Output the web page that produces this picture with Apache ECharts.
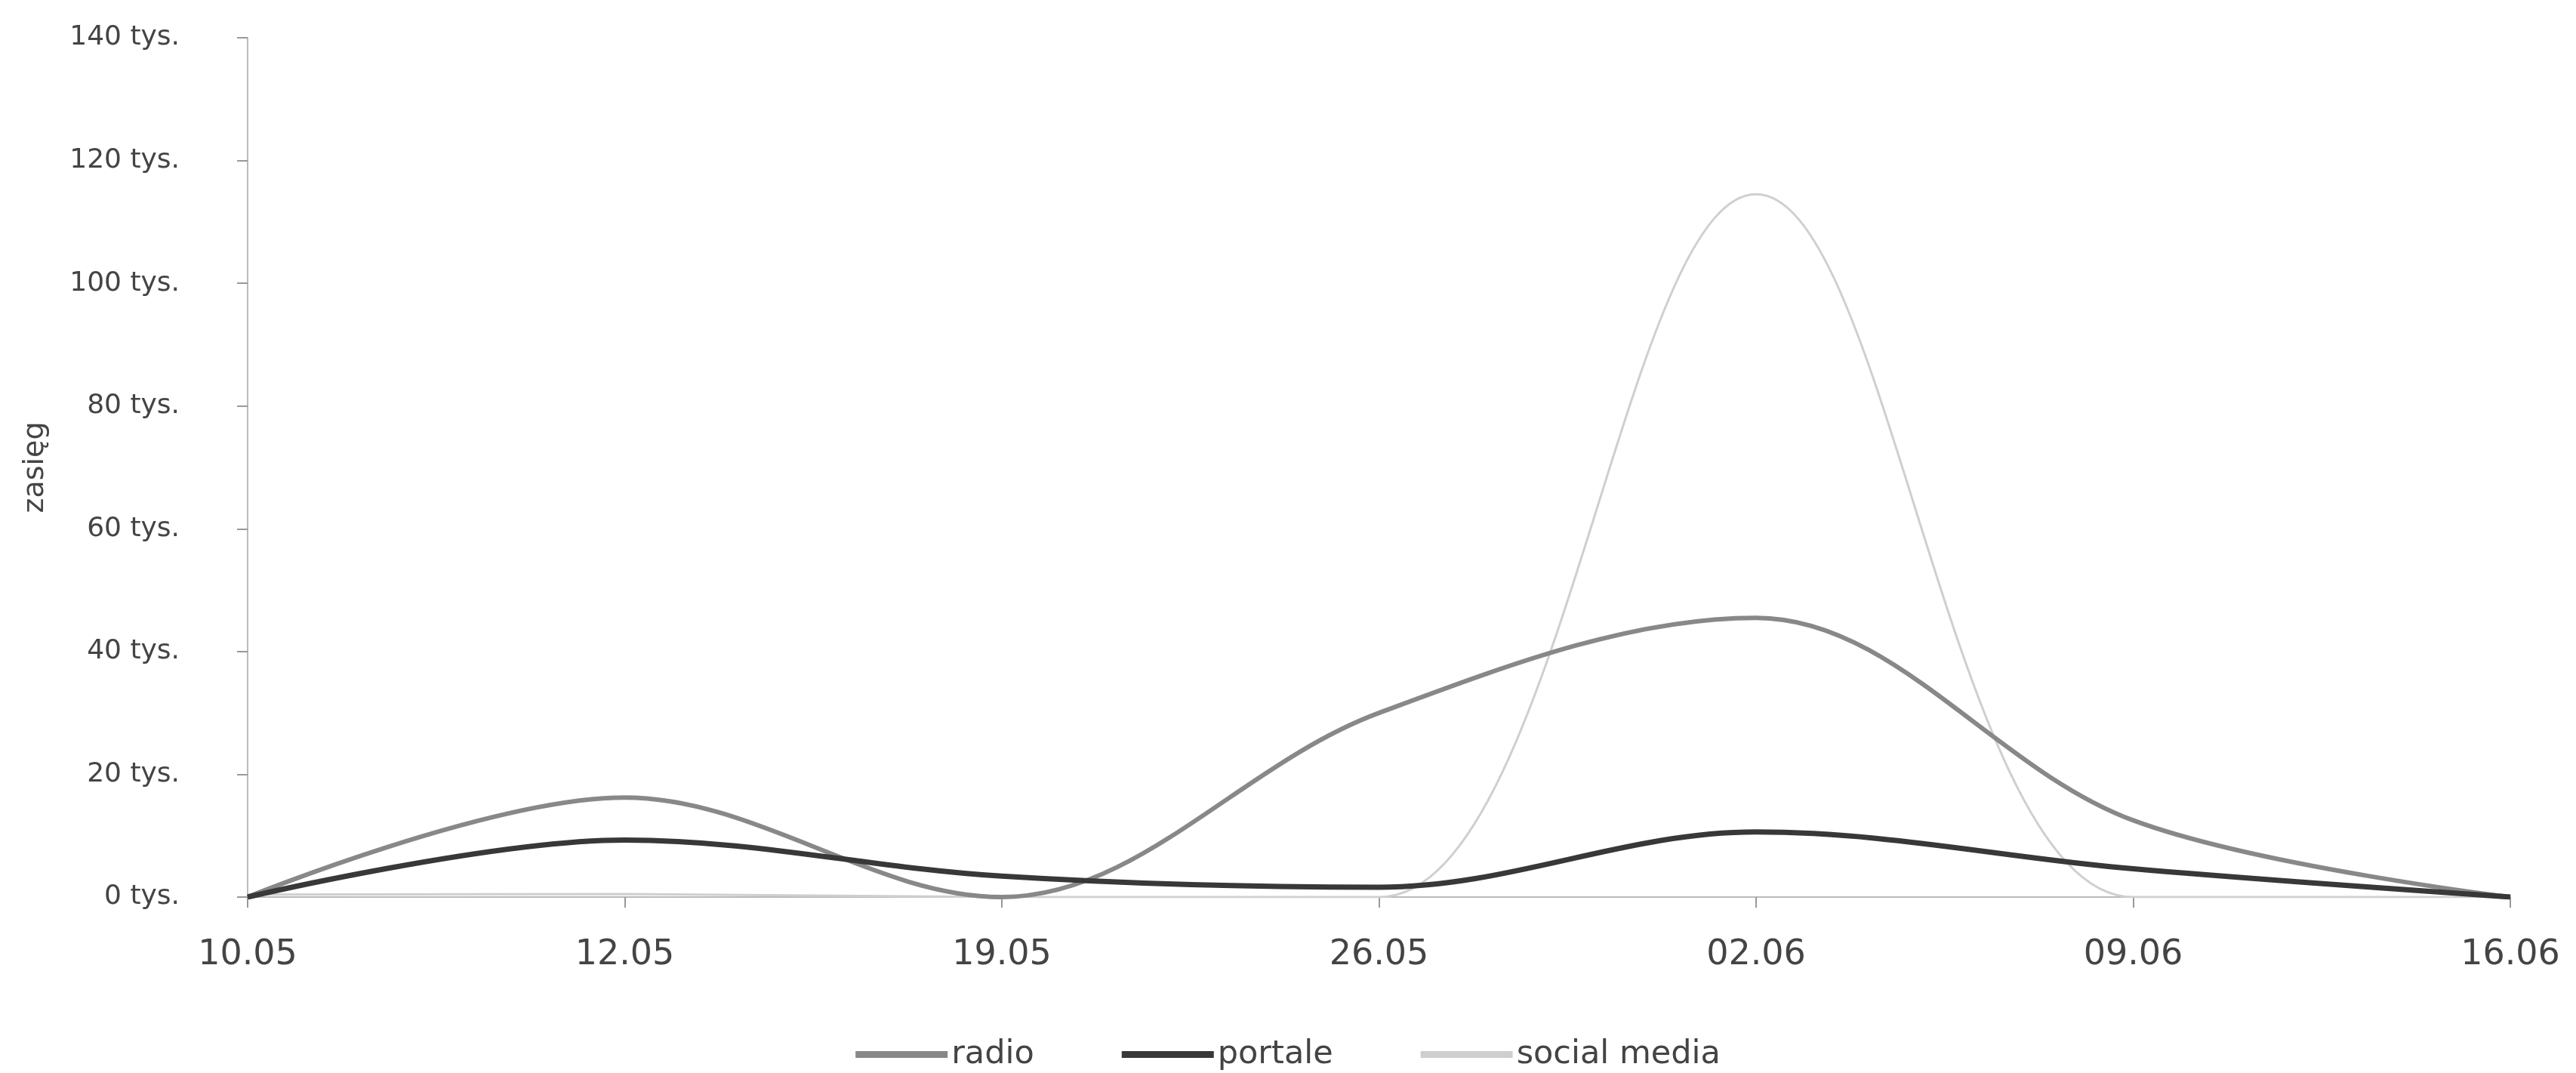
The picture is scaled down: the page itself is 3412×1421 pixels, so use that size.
<!DOCTYPE html>
<html><head><meta charset="utf-8">
<script src="https://cdn.jsdelivr.net/npm/echarts@6/dist/echarts.min.js"></script>
<style>html,body{margin:0;padding:0;background:#fff}#c{width:3412px;height:1421px}</style>
</head><body><div id="c"></div>
<script>
const categories = ['10.05','12.05','19.05','26.05','02.06','09.06','16.06'];
const radio = [0, 16.2, 0, 30, 45.5, 12.5, 0];
const portale = [0, 9.3, 3.4, 1.6, 10.6, 4.6, 0];
const socialMedia = [0.4, 0.5, 0, 0, 114.5, 0, 0];
const yTicks = [0, 20, 40, 60, 80, 100, 120, 140];
const FONT = 'DejaVu Sans';
const chart = echarts.init(document.getElementById('c'));
chart.setOption({
  animation: false,
  backgroundColor: '#fff',
  grid: {left: 328, right: 87, top: 50, bottom: 233},
  legend: {
    top: 1370, left: 'center', itemWidth: 122, itemHeight: 9, itemGap: 116,
    icon: 'rect',
    textStyle: {fontFamily: FONT, fontSize: 43, color: '#444'},
    data: ['radio','portale','social media']
  },
  xAxis: {
    type: 'category', boundaryGap: false, data: categories,
    axisLine: {lineStyle: {color: '#bbb', width: 2}},
    axisTick: {alignWithLabel: true, length: 14, lineStyle: {color: '#999', width: 2}},
    axisLabel: {fontFamily: FONT, fontSize: 46, color: '#444', margin: 54}
  },
  yAxis: {
    type: 'value', min: 0, max: 140, interval: 20,
    name: 'zasięg', nameLocation: 'middle', nameGap: 262, nameRotate: 90,
    nameTextStyle: {fontFamily: FONT, fontSize: 38, color: '#444'},
    axisLine: {show: true, lineStyle: {color: '#bbb', width: 2}},
    axisTick: {show: true, length: 14, lineStyle: {color: '#999', width: 2}},
    splitLine: {show: false},
    axisLabel: {fontFamily: FONT, fontSize: 36, color: '#444', margin: 90,
      formatter: v => yTicks.includes(v) ? v + ' tys.' : ''}
  },
  series: [
    {name: 'radio', type: 'line', smooth: 0.35, data: radio, showSymbol: false,
      lineStyle: {color: '#888', width: 6}, itemStyle: {color: '#888'}, z: 3},
    {name: 'portale', type: 'line', smooth: 0.35, data: portale, showSymbol: false,
      lineStyle: {color: '#383838', width: 7}, itemStyle: {color: '#383838'}, z: 4},
    {name: 'social media', type: 'line', smooth: 0.35, data: socialMedia, showSymbol: false,
      lineStyle: {color: '#cfcfcf', width: 3}, itemStyle: {color: '#cfcfcf'}, z: 2}
  ]
});
</script></body></html>
